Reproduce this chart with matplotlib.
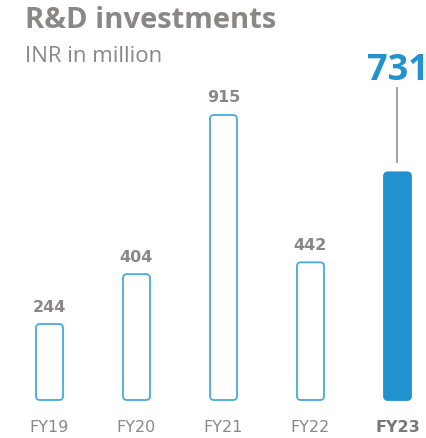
import matplotlib.pyplot as plt
from matplotlib.patches import FancyBboxPatch

years = ["FY19", "FY20", "FY21", "FY22", "FY23"]
values = [244, 404, 915, 442, 731]

GRAY = "#8a8784"
BLUE = "#4aa8e0"
FILL = "#2191d0"
plt.rcParams["font.family"] = ["Open Sans", "DejaVu Sans"]

fig = plt.figure(figsize=(4.27, 4.38), dpi=100)
ax = fig.add_axes([0, 38 / 438, 1, 285 / 438])
ax.set_xlim(-49.5 / 87, (427 - 49.5) / 87)
ax.set_ylim(0, 915)
ax.axis("off")

px = 915 / 285  # data units per pixel
w = 27 / 87
r = 4 / 87
aspect = (4 * px) / r
for i, (yr, v) in enumerate(zip(years, values)):
    last = i == len(values) - 1
    box = FancyBboxPatch((i - w / 2, 0), w, v,
                         boxstyle=f"round,pad=0,rounding_size={r}",
                         mutation_aspect=aspect,
                         facecolor=FILL if last else "white",
                         edgecolor=FILL if last else BLUE,
                         linewidth=1.3, clip_on=False)
    ax.add_patch(box)
    ax.text(i, -27 * px, yr, ha="center", va="center", fontsize=11.5,
            family="DejaVu Sans", color="#7a7774" if last else GRAY,
            fontweight="bold" if last else "normal")
    if last:
        ax.plot([i, i], [v + 10 * px, v + 84 * px],
                color="#999999", lw=1.3, clip_on=False)
        ax.text(i, v + 101 * px, f"{v}", ha="center", va="center",
                fontsize=26, fontweight="bold", color=FILL)
    else:
        ax.text(i, v + 17 * px, f"{v}", ha="center", va="center",
                fontsize=11.5, fontweight="bold", family="DejaVu Sans",
                color=GRAY)

fig.text(25 / 427, 1 - 20 / 438, "R&D investments", ha="left", va="center",
         fontsize=21, fontweight="bold", color=GRAY)
fig.text(25 / 427, 1 - 57 / 438, "INR in million", ha="left", va="center",
         fontsize=16, color=GRAY)

fig.savefig("out.png", dpi=100)
